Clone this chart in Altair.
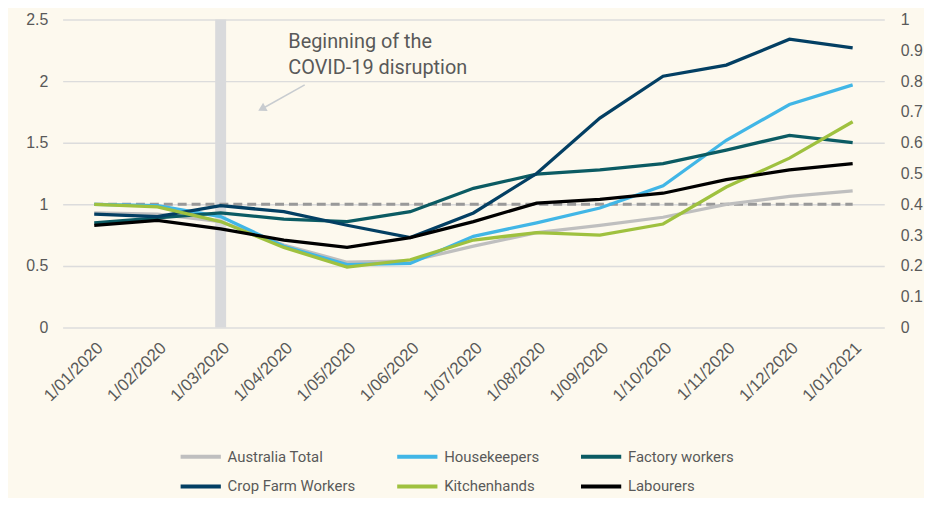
import altair as alt
import pandas as pd

months = ["1/01/2020", "1/02/2020", "1/03/2020", "1/04/2020", "1/05/2020", "1/06/2020",
          "1/07/2020", "1/08/2020", "1/09/2020", "1/10/2020", "1/11/2020", "1/12/2020", "1/01/2021"]
series_names = ["Australia Total", "Housekeepers", "Factory workers",
                "Crop Farm Workers", "Kitchenhands", "Labourers"]
series_colors = ["#bfbfbf", "#41b6e6", "#0b5b63", "#033f63", "#9fc13f", "#000000"]

australia_total = [0.93, 0.92, 0.86, 0.67, 0.53, 0.54, 0.66, 0.77, 0.83, 0.895, 1.00, 1.065, 1.11]
housekeepers = [1.00, 0.99, 0.90, 0.66, 0.51, 0.52, 0.74, 0.85, 0.97, 1.15, 1.52, 1.81, 1.97]
factory_workers = [0.85, 0.89, 0.93, 0.88, 0.86, 0.94, 1.13, 1.245, 1.28, 1.33, 1.44, 1.56, 1.50]
crop_farm_workers = [0.92, 0.90, 0.99, 0.94, 0.83, 0.73, 0.93, 1.25, 1.70, 2.04, 2.13, 2.34, 2.27]
kitchenhands = [1.00, 0.98, 0.86, 0.65, 0.49, 0.55, 0.71, 0.77, 0.75, 0.84, 1.14, 1.375, 1.67]
labourers = [0.83, 0.87, 0.80, 0.71, 0.65, 0.73, 0.86, 1.01, 1.04, 1.09, 1.20, 1.28, 1.33]

reference_level = 1.0
covid_month_index = 2
annotation_lines = ["Beginning of the", "COVID-19 disruption"]
annotation_pos = [(3.07, 2.32), (3.07, 2.11)]
arrow_start = (3.33, 1.97)
arrow_end = (2.67, 1.78)
left_ticks = [0, 0.5, 1, 1.5, 2, 2.5]
right_ticks = [0, 0.1, 0.2, 0.3, 0.4, 0.5, 0.6, 0.7, 0.8, 0.9, 1]

FONT = "Roboto, DejaVu Sans, sans-serif"
AXFONT = "Liberation Sans, Arial, sans-serif"
TXT = "#595959"

all_series = [australia_total, housekeepers, factory_workers, crop_farm_workers, kitchenhands, labourers]
rows = []
for name, vals in zip(series_names, all_series):
    for i, v in enumerate(vals):
        rows.append({"idx": i, "value": v, "series": name, "order": series_names.index(name)})
df = pd.DataFrame(rows)

x_scale = alt.Scale(domain=[-0.5, len(months) - 0.5], nice=False, zero=False)
y_scale = alt.Scale(domain=[0, 2.5], nice=False)
label_expr = "[" + ",".join('"%s"' % m for m in months) + "][datum.value]"

x_axis = alt.Axis(values=list(range(len(months))), labelExpr=label_expr, labelAngle=-45,
                  labelOverlap=False, grid=False, domain=False, ticks=False, title=None,
                  labelFont=AXFONT, labelFontSize=17, labelColor=TXT, labelPadding=12)
y_axis = alt.Axis(values=left_ticks, format="~g", grid=True, gridColor="#dcdcdc", gridWidth=1.5,
                  domain=False, ticks=False, title=None, labelFont=AXFONT,
                  labelFontSize=16, labelColor=TXT, labelPadding=15)

# vertical COVID bar
bar_df = pd.DataFrame({"idx": [covid_month_index], "y0": [0], "y1": [2.5]})
bar = alt.Chart(bar_df).mark_rule(color="#d9dadc", strokeWidth=11).encode(
    x=alt.X("idx:Q", scale=x_scale, axis=x_axis),
    y=alt.Y("y0:Q", scale=y_scale, axis=y_axis),
    y2="y1:Q",
)

# dashed reference line
ref_df = pd.DataFrame({"idx": [0, len(months) - 1], "value": [reference_level, reference_level]})
ref = alt.Chart(ref_df).mark_line(color="#999999", strokeWidth=3, strokeDash=[9, 5]).encode(
    x=alt.X("idx:Q", scale=x_scale),
    y=alt.Y("value:Q", scale=y_scale),
)

lines = alt.Chart(df).mark_line(strokeWidth=3.3).encode(
    x=alt.X("idx:Q", scale=x_scale),
    y=alt.Y("value:Q", scale=y_scale),
    color=alt.Color("series:N", scale=alt.Scale(domain=series_names, range=series_colors),
                    legend=alt.Legend(orient="none", legendX=122, legendY=423, columns=3,
                                      direction="horizontal",
                                      title=None, symbolType="M-1.35,0H1.35", symbolSize=900,
                                      symbolStrokeWidth=4, labelFont=FONT, labelFontSize=15,
                                      labelColor=TXT, columnPadding=33, rowPadding=5,
                                      labelOffset=10, labelLimit=300, padding=0)),
    order="order:Q",
)

ann_df = pd.DataFrame({"idx": [p[0] for p in annotation_pos], "value": [p[1] for p in annotation_pos],
                       "text": annotation_lines})
ann = alt.Chart(ann_df).mark_text(align="left", baseline="middle", font=FONT, fontSize=20,
                                  color=TXT).encode(
    x=alt.X("idx:Q", scale=x_scale), y=alt.Y("value:Q", scale=y_scale), text="text:N")

arrow_df = pd.DataFrame({"idx": [arrow_start[0]], "value": [arrow_start[1]],
                         "idx2": [arrow_end[0]], "value2": [arrow_end[1]]})
arrow_line = alt.Chart(arrow_df).mark_rule(color="#c8ccd0", strokeWidth=1.5).encode(
    x=alt.X("idx:Q", scale=x_scale), y=alt.Y("value:Q", scale=y_scale),
    x2="idx2:Q", y2="value2:Q")
head_df = pd.DataFrame({"idx": [arrow_end[0]], "value": [arrow_end[1]]})
arrow_head = alt.Chart(head_df).mark_point(shape="triangle", filled=True, color="#c8ccd0",
                                           size=90, angle=241, opacity=1).encode(
    x=alt.X("idx:Q", scale=x_scale), y=alt.Y("value:Q", scale=y_scale))

inner = alt.layer(bar, ref, lines, arrow_line, arrow_head, ann)

right_df = pd.DataFrame({"r": [0, 1]})
right = alt.Chart(right_df).mark_point(opacity=0).encode(
    y=alt.Y("r:Q", scale=alt.Scale(domain=[0, 1], nice=False),
            axis=alt.Axis(orient="right", values=right_ticks, format="~g", grid=False,
                          domain=False, ticks=False, title=None, labelFont=AXFONT,
                          labelFontSize=16, labelColor=TXT, labelPadding=16)),
)

chart = alt.layer(inner, right).resolve_scale(y="independent").properties(
    width=827, height=310,
    autosize=alt.AutoSizeParams(type="none"),
    padding={"left": 55, "top": 10, "right": 40, "bottom": 170},
    background="#fdf9ee",
).configure_view(stroke=None)

chart.save("out.html", embed_options={"renderer": "svg", "actions": False})
